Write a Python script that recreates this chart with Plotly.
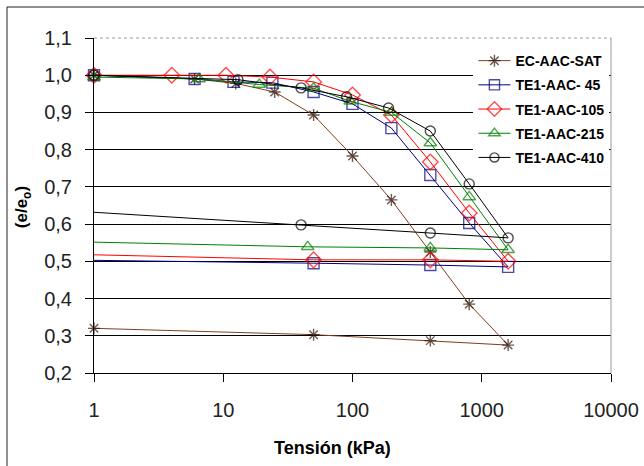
import plotly.graph_objects as go

# Consolidation curves: relative void ratio vs. applied stress (loading then unloading)
series_names = ["EC-AAC-SAT", "TE1-AAC- 45", "TE1-AAC-105", "TE1-AAC-215", "TE1-AAC-410"]

sat_x = [1, 6, 12.5, 25, 50, 100, 200, 400, 800, 1600, 400, 50, 1]
sat_y = [1.0, 0.99, 0.978, 0.955, 0.893, 0.783, 0.665, 0.525, 0.385, 0.275, 0.287, 0.303, 0.32]

t45_x = [1, 6, 12, 24, 50, 100, 200, 400, 800, 1600, 400, 50, 0.88]
t45_y = [1.0, 0.99, 0.982, 0.98, 0.955, 0.923, 0.858, 0.732, 0.603, 0.485, 0.49, 0.495, 0.503]

t105_x = [1, 4, 10.5, 23, 50, 100, 200, 400, 800, 1600, 400, 50, 0.88]
t105_y = [1.0, 1.0, 1.0, 0.995, 0.982, 0.947, 0.893, 0.767, 0.63, 0.5, 0.504, 0.504, 0.518]

t215_x = [1, 6.5, 19, 50, 96, 200, 400, 800, 1600, 400, 45, 0.88]
t215_y = [0.995, 0.99, 0.975, 0.965, 0.93, 0.9, 0.818, 0.673, 0.531, 0.536, 0.539, 0.552]

t410_x = [1, 13, 40, 90, 190, 400, 800, 1600, 400, 40, 0.88]
t410_y = [1.0, 0.988, 0.966, 0.942, 0.912, 0.85, 0.708, 0.563, 0.576, 0.598, 0.633]

y_ticks = [0.2, 0.3, 0.4, 0.5, 0.6, 0.7, 0.8, 0.9, 1.0, 1.1]
y_tick_text = ["0,2", "0,3", "0,4", "0,5", "0,6", "0,7", "0,8", "0,9", "1,0", "1,1"]
x_ticks = [1, 10, 100, 1000, 10000]
x_tick_text = ["1", "10", "100", "1000", "10000"]

styles = [
    dict(line="#7f3f1f", marker="#2e1408", symbol="asterisk-open", size=10),
    dict(line="#000080", marker="#000080", symbol="square-open", size=11),
    dict(line="#ff0000", marker="#ff0000", symbol="diamond-open", size=12),
    dict(line="#008000", marker="#008000", symbol="triangle-up-open", size=11),
    dict(line="#000000", marker="#000000", symbol="circle-open", size=10),
]

data = [(sat_x, sat_y), (t45_x, t45_y), (t105_x, t105_y), (t215_x, t215_y), (t410_x, t410_y)]

fig = go.Figure()
for name, (xs, ys), st in zip(series_names, data, styles):
    # the unloading branch runs slightly past the axis without a marker
    sizes = [0 if x < 1 else st["size"] for x in xs]
    fig.add_trace(go.Scatter(
        x=xs, y=ys, name=name, mode="lines+markers", legendgroup=name,
        line=dict(color=st["line"], width=1),
        marker=dict(symbol=st["symbol"], size=sizes, color=st["marker"],
                    line=dict(color=st["marker"], width=1.4)),
        cliponaxis=False,
    ))

font_main = "Liberation Sans, Arial, sans-serif"

fig.update_layout(
    width=644, height=466,
    margin=dict(l=94, r=33, t=38, b=93, autoexpand=False),
    paper_bgcolor="white", plot_bgcolor="white",
    font=dict(family=font_main, color="#111"),
    showlegend=True,
    legend=dict(
        x=0.997, xanchor="right", y=0.979, yanchor="top",
        bgcolor="white", borderwidth=0,
        font=dict(size=14, family=font_main, color="#000", weight="bold"),
        itemwidth=32, tracegroupgap=3,
    ),
    xaxis=dict(
        type="log", range=[0, 4], automargin=False,
        tickvals=x_ticks, ticktext=x_tick_text,
        showgrid=False, zeroline=False,
        showline=True, linecolor="#000", linewidth=1,
        ticks="outside", ticklen=8, tickcolor="#000", tickwidth=1,
        tickfont=dict(size=20, family=font_main, color="#222"),
        ticklabelstandoff=11,
    ),
    yaxis=dict(
        range=[0.2, 1.1], automargin=False,
        tickvals=y_ticks, ticktext=y_tick_text,
        showgrid=True, gridcolor="#000", gridwidth=1.2,
        zeroline=False,
        showline=True, linecolor="#000", linewidth=1,
        ticks="outside", ticklen=8, tickcolor="#000", tickwidth=1,
        tickfont=dict(size=20, family=font_main, color="#222"),
        ticklabelstandoff=9,
    ),
    annotations=[
        dict(text="(e/e<sub>o</sub>)", xref="paper", yref="paper",
             x=-0.137, y=0.4955, xanchor="center", yanchor="middle",
             textangle=-90, showarrow=False,
             font=dict(size=17, family=font_main, color="#000", weight="bold")),
        dict(text="Tensión (kPa)", xref="paper", yref="paper",
             x=0.462, y=-0.224, xanchor="center", yanchor="middle",
             showarrow=False,
             font=dict(size=18, family=font_main, color="#000", weight="bold")),
    ],
    shapes=[
        # plot-area frame: dotted top edge and solid right edge in light grey
        dict(type="line", xref="paper", yref="paper", layer="above",
             x0=0, y0=1, x1=1, y1=1,
             line=dict(color="#9a9a9a", width=1, dash="dot")),
        dict(type="line", xref="paper", yref="paper", layer="above",
             x0=1, y0=1, x1=1, y1=0,
             line=dict(color="#9a9a9a", width=1)),
        # outer chart frame (left and top)
        dict(type="path", xref="paper", yref="paper", layer="above",
             path="M -0.1683,-0.32 L -0.1683,1.0925 L 1.08,1.0925",
             line=dict(color="#222", width=1)),
    ],
)

fig.write_html("out.html")
